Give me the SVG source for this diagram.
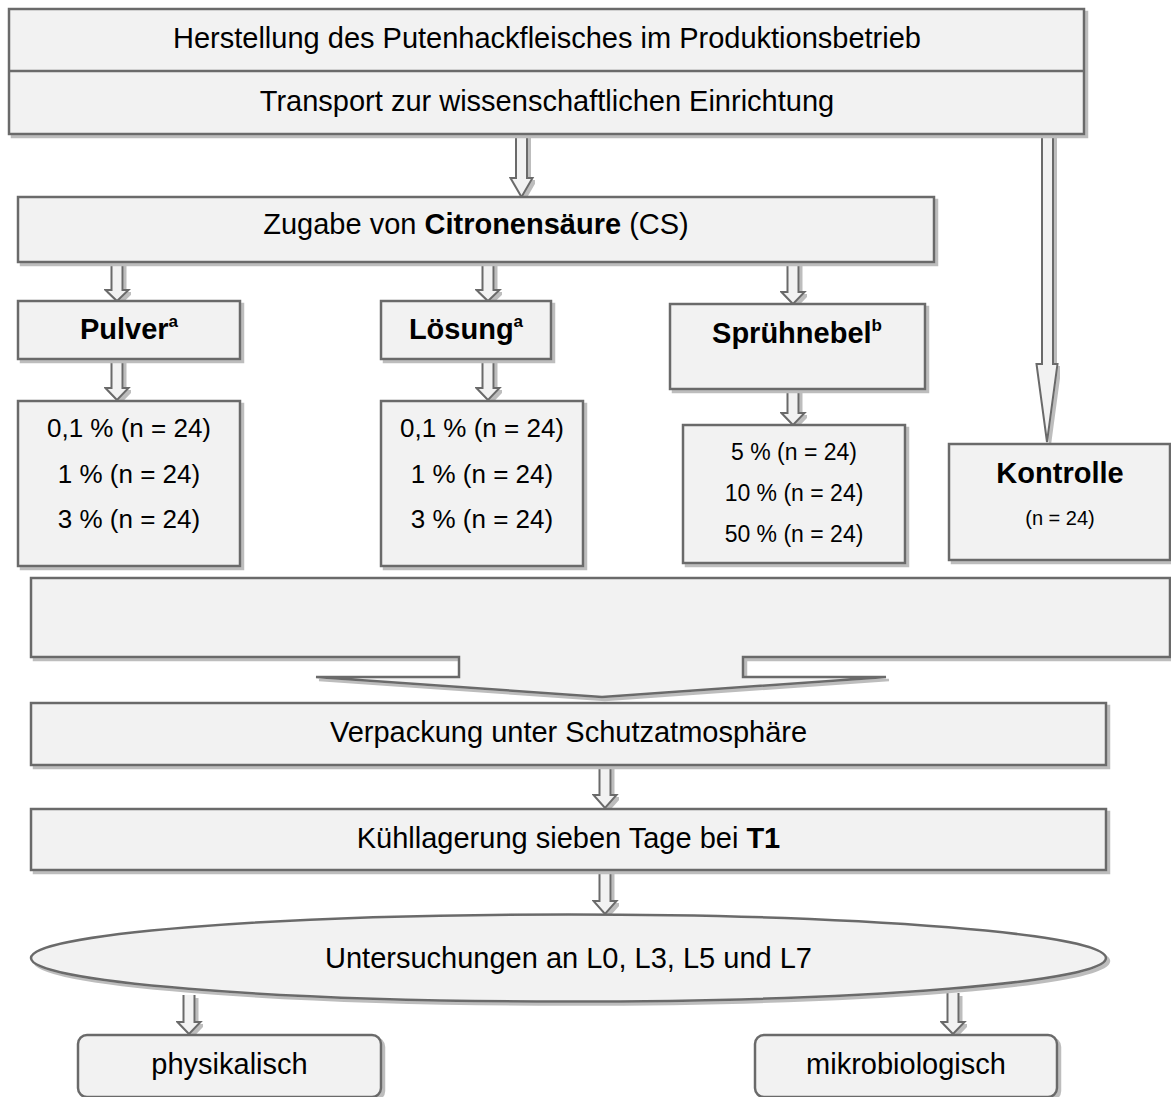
<svg xmlns="http://www.w3.org/2000/svg" width="1171" height="1097" viewBox="0 0 1171 1097">
<defs>
<filter id="sh" x="-5%" y="-5%" width="115%" height="130%">
<feFlood flood-color="#bdbdbd" result="f"/>
<feComposite in="f" in2="SourceAlpha" operator="in" result="s"/>
<feOffset in="s" dx="3" dy="3" result="o"/>
<feMerge><feMergeNode in="o"/><feMergeNode in="SourceGraphic"/></feMerge>
</filter>
</defs>
<style>
.b{fill:#f2f2f2;stroke:#6b6b6b;stroke-width:2.5;filter:url(#sh)}
.a{fill:#f2f2f2;stroke:#6b6b6b;stroke-width:2;filter:url(#sh)}
text{font-family:"Liberation Sans",Arial,sans-serif;fill:#000;text-anchor:middle}
.t{font-size:29px}
.bd{font-size:29px;font-weight:bold}
.v{font-size:26px}
.vs{font-size:23px}
.k{font-size:20px}
</style>
<rect width="1171" height="1097" fill="#fff"/>
<g id="connectors">
<path class="a" d="M516,134 V178 H510.5 L521.5,197 L532.5,178 H527 V134"/>
<path class="a" d="M1042,134 V364 H1036.5 L1047,442 L1057.5,364 H1053 V134"/>
<path class="a" d="M111.5,262 V290 H105.5 L117,301 L128.5,290 H122.5 V262"/>
<path class="a" d="M482.5,262 V290 H476.5 L488,301 L499.5,290 H493.5 V262"/>
<path class="a" d="M787.5,262 V292 H781.5 L793,304 L804.5,292 H798.5 V262"/>
<path class="a" d="M111.5,359 V388 H105.5 L117,400 L128.5,388 H122.5 V359"/>
<path class="a" d="M482.5,359 V388 H476.5 L488,400 L499.5,388 H493.5 V359"/>
<path class="a" d="M787.5,389 V413 H781.5 L793,425 L804.5,413 H798.5 V389"/>
<path class="a" d="M599.5,765 V795 H593.5 L605,808 L616.5,795 H610.5 V765"/>
<path class="a" d="M599.5,870 V901 H593.5 L605,914 L616.5,901 H610.5 V870"/>
<path class="a" d="M183.5,995 V1022 H177.5 L189,1034 L200.5,1022 H194.5 V995"/>
<path class="a" d="M947.5,993 V1022 H941.5 L953,1034 L964.5,1022 H958.5 V993"/>
</g>
<g id="n-herstellung">
<rect class="b" x="9" y="9" width="1075" height="125"/>
<line x1="9" y1="71" x2="1084" y2="71" stroke="#6b6b6b" stroke-width="2.5"/>
<text class="t" x="547" y="48">Herstellung des Putenhackfleisches im Produktionsbetrieb</text>
</g>
<g id="n-transport">
<text class="t" x="547" y="111">Transport zur wissenschaftlichen Einrichtung</text>
</g>
<g id="n-zugabe">
<rect class="b" x="18" y="197" width="916" height="65"/>
<text class="t" x="476" y="234">Zugabe von <tspan font-weight="bold">Citronensäure</tspan> (CS)</text>
</g>
<g id="n-pulver">
<rect class="b" x="18" y="301" width="222" height="58"/>
<text class="bd" x="129" y="339">Pulver<tspan font-size="17" dy="-12">a</tspan></text>
</g>
<g id="n-loesung">
<rect class="b" x="381" y="301" width="170" height="58"/>
<text class="bd" x="466" y="339">Lösung<tspan font-size="17" dy="-12">a</tspan></text>
</g>
<g id="n-spruehnebel">
<rect class="b" x="670" y="304" width="255" height="85"/>
<text class="bd" x="797" y="343">Sprühnebel<tspan font-size="17" dy="-12">b</tspan></text>
</g>
<g id="n-pulver-werte">
<rect class="b" x="18" y="401" width="222" height="165"/>
<text class="v" x="129" y="437">0,1 % (n = 24)</text>
<text class="v" x="129" y="483">1 % (n = 24)</text>
<text class="v" x="129" y="528">3 % (n = 24)</text>
</g>
<g id="n-loesung-werte">
<rect class="b" x="381" y="401" width="202" height="165"/>
<text class="v" x="482" y="437">0,1 % (n = 24)</text>
<text class="v" x="482" y="483">1 % (n = 24)</text>
<text class="v" x="482" y="528">3 % (n = 24)</text>
</g>
<g id="n-spruehnebel-werte">
<rect class="b" x="683" y="425" width="222" height="138"/>
<text class="vs" x="794" y="460">5 % (n = 24)</text>
<text class="vs" x="794" y="501">10 % (n = 24)</text>
<text class="vs" x="794" y="542">50 % (n = 24)</text>
</g>
<g id="n-kontrolle">
<rect class="b" x="949" y="444" width="221" height="116"/>
<text class="bd" x="1060" y="483">Kontrolle</text>
<text class="k" x="1060" y="525">(n = 24)</text>
</g>
<g id="n-sammel">
<path class="b" d="M31,578 H1170 V657 H743 V677 H886 L602,697 L316,677 H459 V657 H31 Z"/>
</g>
<g id="n-verpackung">
<rect class="b" x="31" y="703" width="1075" height="62"/>
<text class="t" x="568.5" y="742">Verpackung unter Schutzatmosphäre</text>
</g>
<g id="n-kuehllagerung">
<rect class="b" x="31" y="809" width="1075" height="61"/>
<text class="t" x="568.5" y="848">Kühllagerung sieben Tage bei <tspan font-weight="bold">T1</tspan></text>
</g>
<g id="n-untersuchungen">
<ellipse class="b" cx="568.5" cy="958" rx="537.5" ry="43.5"/>
<text class="t" x="568.5" y="968">Untersuchungen an L0, L3, L5 und L7</text>
</g>
<g id="n-physikalisch">
<rect class="b" x="78" y="1035" width="303" height="62" rx="9"/>
<text class="t" x="229.5" y="1074">physikalisch</text>
</g>
<g id="n-mikrobiologisch">
<rect class="b" x="755" y="1035" width="302" height="62" rx="9"/>
<text class="t" x="906" y="1074">mikrobiologisch</text>
</g>
</svg>
